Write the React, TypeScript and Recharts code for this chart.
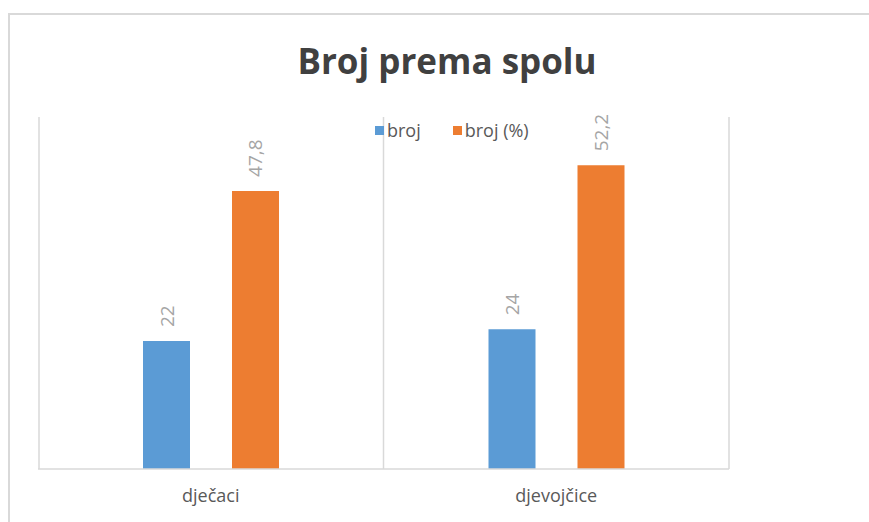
import React from "react";
import { BarChart, Bar, XAxis, YAxis, CartesianGrid, LabelList } from "recharts";

const categories = ["dječaci", "djevojčice"];
const brojValues = [22, 24];
const postotakValues = [47.8, 52.2];
const seriesNames = ["broj", "broj (%)"];
const seriesColors = ["#5b9bd5", "#ed7d31"];

const data = categories.map((c, i) => ({
  name: c,
  broj: brojValues[i],
  pct: postotakValues[i],
}));

const fmt = (v: number) => String(v).replace(".", ",");

const RotLabel = (props: any) => {
  const { x, y, width, value } = props;
  const cx = x + width / 2;
  const cy = y - 14;
  return (
    <text
      x={cx}
      y={cy}
      transform={`rotate(-90, ${cx}, ${cy})`}
      textAnchor="start"
      dominantBaseline="central"
      fill="#a5a5a5"
      fontSize={19}
      fontFamily="Open Sans, sans-serif"
    >
      {fmt(value)}
    </text>
  );
};

export default function App() {
  return (
    <div style={{ position: "absolute", left: 0, top: 0, width: 869, height: 522, background: "#fff", overflow: "hidden" }}>
      <div
        style={{
          position: "absolute",
          left: 8,
          top: 13,
          width: 900,
          height: 560,
          border: "2px solid #d9d9d9",
          boxSizing: "border-box",
        }}
      />
      <div
        style={{
          position: "absolute",
          left: 0,
          width: 894,
          top: 36,
          textAlign: "center",
          fontFamily: "Open Sans, sans-serif",
          fontWeight: 700,
          fontSize: 35,
          color: "#404040",
          lineHeight: "50px",
        }}
      >
        Broj prema spolu
      </div>
      <div style={{ position: "absolute", left: 0, top: 0 }}>
        <BarChart
          width={869}
          height={522}
          data={data}
          margin={{ top: 117, right: 140, bottom: 23, left: 38 }}
          barCategoryGap={105}
          barGap={42}
        >
          <CartesianGrid
            horizontal={false}
            stroke="#d9d9d9"
            strokeWidth={1.5}
            verticalCoordinatesGenerator={({ offset }: any) => [
              offset.left + 1,
              offset.left + offset.width / 2,
              offset.left + offset.width,
            ]}
          />
          <XAxis
            dataKey="name"
            axisLine={{ stroke: "#d9d9d9", strokeWidth: 1.5 }}
            tickLine={false}
            tick={{ fill: "#595959", fontSize: 18, fontFamily: "Open Sans, sans-serif" }}
            tickMargin={14}
          />
          <YAxis hide domain={[0, 60.5]} />
          <Bar dataKey="broj" name={seriesNames[0]} fill={seriesColors[0]} barSize={47} isAnimationActive={false}>
            <LabelList dataKey="broj" content={<RotLabel />} />
          </Bar>
          <Bar dataKey="pct" name={seriesNames[1]} fill={seriesColors[1]} barSize={47} isAnimationActive={false}>
            <LabelList dataKey="pct" content={<RotLabel />} />
          </Bar>
        </BarChart>
      </div>
      <div
        style={{
          position: "absolute",
          left: 375,
          top: 117,
          display: "flex",
          alignItems: "center",
          fontFamily: "Open Sans, sans-serif",
          fontSize: 18,
          color: "#595959",
          lineHeight: "26px",
          background: "transparent",
        }}
      >
        {seriesNames.map((n, i) => (
          <span key={n} style={{ display: "flex", alignItems: "center", marginRight: 32 }}>
            <span
              style={{ width: 9, height: 9, background: seriesColors[i], display: "inline-block", marginRight: 3 }}
            />
            <span>{n}</span>
          </span>
        ))}
      </div>
    </div>
  );
}
